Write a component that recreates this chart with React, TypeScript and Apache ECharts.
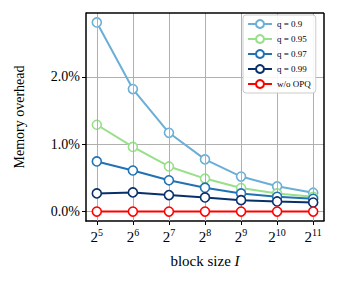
import React, { useEffect, useRef } from "react";
import * as echarts from "echarts";

const exponents = [5, 6, 7, 8, 9, 10, 11];
const seriesNames = ["q = 0.9", "q = 0.95", "q = 0.97", "q = 0.99", "w/o OPQ"];
const q90 = [2.81, 1.82, 1.17, 0.775, 0.52, 0.375, 0.28];
const q95 = [1.29, 0.96, 0.67, 0.49, 0.35, 0.27, 0.22];
const q97 = [0.745, 0.61, 0.465, 0.355, 0.27, 0.22, 0.19];
const q99 = [0.27, 0.285, 0.245, 0.21, 0.17, 0.15, 0.135];
const noOpq = [0, 0, 0, 0, 0, 0, 0];
const yTicks = [0, 1, 2];
const colors = ["#6baed6", "#98df8a", "#2171b5", "#08306b", "#ff0000"];

export default function App() {
  const ref = useRef<HTMLDivElement>(null);
  useEffect(() => {
    if (!ref.current) return;
    const chart = echarts.init(ref.current, undefined, { renderer: "svg" });
    const font = "Liberation Serif";
    const allData = [q90, q95, q97, q99, noOpq];
    const series: any[] = seriesNames.map((name, i) => ({
      name,
      type: "line",
      data: exponents.map((e, j) => [e, allData[i][j]]),
      symbol: "circle",
      symbolSize: 9,
      itemStyle: { color: "#fff", borderColor: colors[i], borderWidth: 1.6 },
      lineStyle: { color: colors[i], width: 2 },
      color: colors[i],
      z: 3 + i,
    }));
    series.push({
      type: "line",
      data: [],
      silent: true,
      z: 1,
      markLine: {
        silent: true,
        symbol: "none",
        label: { show: false },
        lineStyle: { color: "#b0b0b0", width: 1, type: "solid" },
        data: exponents.map((e) => ({ xAxis: e })),
      },
    });
    const gl = 86, gt = 13, gw = 238, gh = 208;
    chart.setOption({
      animation: false,
      textStyle: { fontFamily: font },
      grid: { left: gl, top: gt, width: gw, height: gh, show: true, borderWidth: 0, backgroundColor: "#fff" },
      graphic: {
        elements: [
          {
            type: "line",
            z: 100,
            silent: true,
            shape: { x1: gl, y1: gt, x2: gl + gw, y2: gt },
            style: { stroke: "#000000", lineWidth: 1.5 },
          },
          {
            type: "line",
            z: 100,
            silent: true,
            shape: { x1: gl + gw, y1: gt, x2: gl + gw, y2: gt + gh },
            style: { stroke: "#000000", lineWidth: 1.5 },
          },
        ],
      },
      legend: {
        left: 243,
        top: 15,
        z: 30,
        orient: "vertical",
        itemWidth: 24,
        itemHeight: 10,
        itemGap: 5,
        padding: [4, 5, 4, 4],
        borderColor: "#cccccc",
        borderWidth: 1,
        borderRadius: 3,
        backgroundColor: "rgba(255,255,255,0.9)",
        textStyle: { fontFamily: font, fontSize: 9, color: "#000" },
        data: seriesNames,
      },
      xAxis: {
        type: "value",
        min: 4.7,
        max: 11.3,
        name: "block size {i|I}",
        nameLocation: "middle",
        nameGap: 32,
        nameTextStyle: {
          fontFamily: font,
          fontSize: 15,
          color: "#000",
          rich: { i: { fontFamily: font, fontStyle: "italic", fontSize: 15, color: "#000" } },
        },
        axisLine: { onZero: false, lineStyle: { color: "#000", width: 1.5 } },
        axisTick: { show: true, length: 4, lineStyle: { color: "#000", width: 1 }, customValues: exponents },
        axisLabel: {
          customValues: exponents,
          margin: 6,
          formatter: (v: number) => `{b|2}{s|${v}}`,
          rich: {
            b: { fontFamily: font, fontSize: 15, color: "#000" },
            s: { fontFamily: font, fontSize: 10, color: "#000", padding: [0, 0, 9, 0] },
          },
        },
        splitLine: { show: false },
      },
      yAxis: {
        type: "value",
        min: -0.14,
        max: 2.95,
        name: "Memory overhead",
        nameLocation: "middle",
        nameGap: 60,
        nameTextStyle: { fontFamily: font, fontSize: 14, color: "#000" },
        axisLine: { show: true, onZero: false, lineStyle: { color: "#000", width: 1.5 } },
        axisTick: { show: true, length: 4, lineStyle: { color: "#000", width: 1 }, customValues: yTicks },
        axisLabel: {
          customValues: yTicks,
          margin: 6,
          fontFamily: font,
          fontSize: 14,
          color: "#000",
          formatter: (v: number) => v.toFixed(1) + "%",
        },
        splitLine: { show: true, lineStyle: { color: "#b0b0b0", width: 1 } },
      },
      series,
    });
    return () => chart.dispose();
  }, []);
  return <div ref={ref} style={{ width: 339, height: 286, position: "absolute", left: 0, top: 0 }} />;
}
